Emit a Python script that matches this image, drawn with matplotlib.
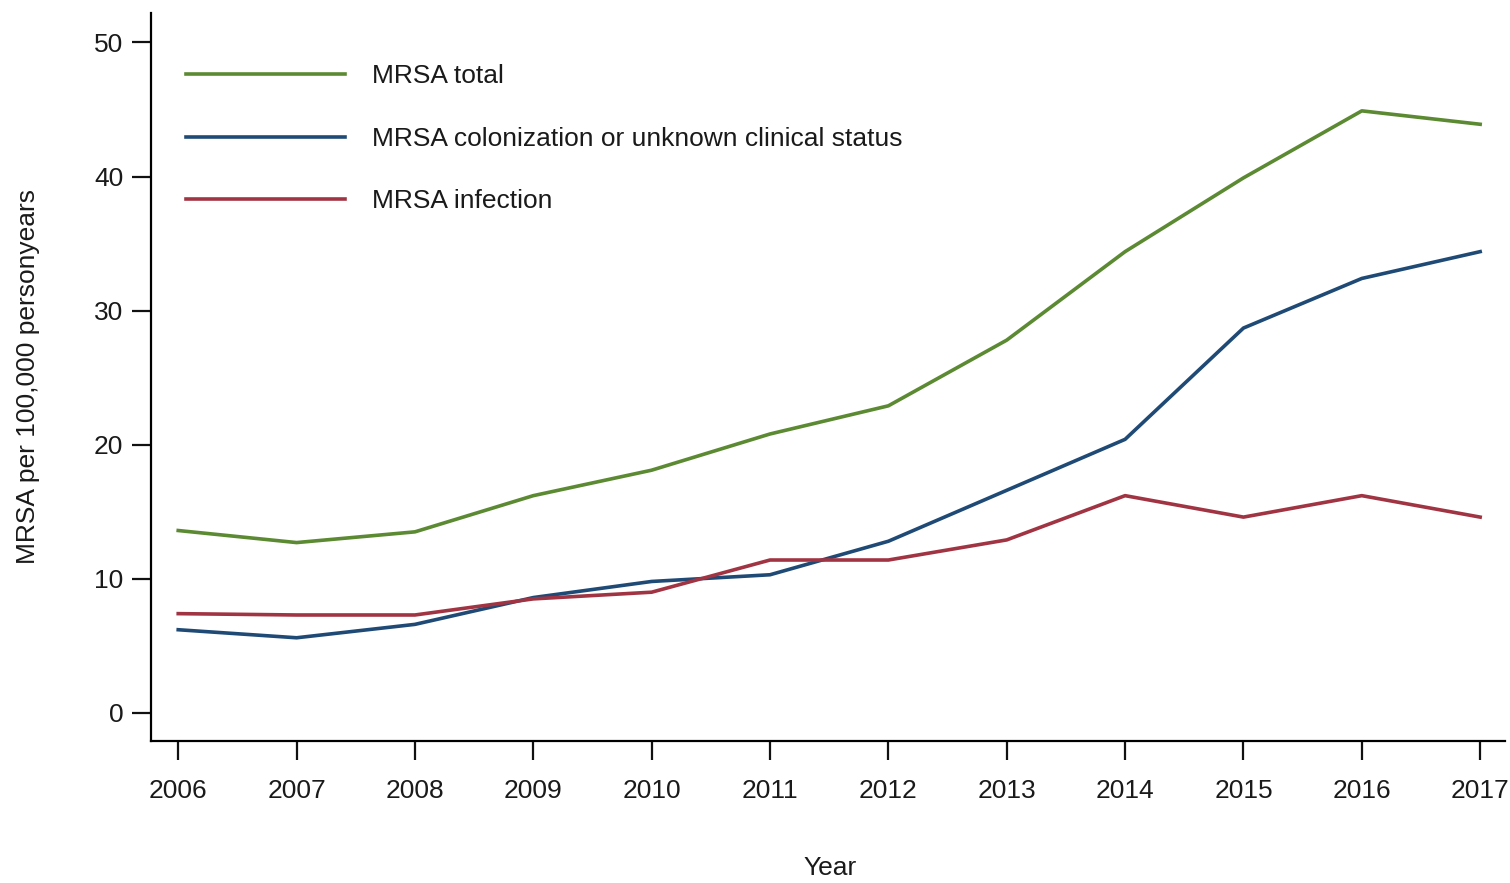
import matplotlib
matplotlib.use("Agg")
import matplotlib.pyplot as plt
from matplotlib import font_manager

years = [2006, 2007, 2008, 2009, 2010, 2011, 2012, 2013, 2014, 2015, 2016, 2017]
mrsa_total = [13.6, 12.7, 13.5, 16.2, 18.1, 20.8, 22.9, 27.8, 34.4, 39.9, 44.9, 43.9]
mrsa_colonization = [6.2, 5.6, 6.6, 8.6, 9.8, 10.3, 12.8, 16.6, 20.4, 28.7, 32.4, 34.4]
mrsa_infection = [7.4, 7.3, 7.3, 8.5, 9.0, 11.4, 11.4, 12.9, 16.2, 14.6, 16.2, 14.6]
series_labels = ["MRSA total", "MRSA colonization or unknown clinical status", "MRSA infection"]
y_ticks = [0, 10, 20, 30, 40, 50]

names = {f.name for f in font_manager.fontManager.ttflist}
fam = "Liberation Sans Narrow" if "Liberation Sans Narrow" in names else "Liberation Sans"
plt.rcParams["font.family"] = [fam, "DejaVu Sans"]

fs = 19
fig = plt.figure(figsize=(15.1, 8.83), dpi=100)
ax = fig.add_axes([0.1, 0.1608, 0.8967, 0.8245])

colors = ["#5b8a32", "#1f4a76", "#a13442"]
for vals, lab, c in zip([mrsa_total, mrsa_colonization, mrsa_infection], series_labels, colors):
    ax.plot(years, vals, color=c, lw=2.6, label=lab, solid_joinstyle="round")

ax.set_xlim(2005.77, 2017.21)
ax.set_ylim(-2.1, 52.2)
ax.set_xticks(years)
ax.set_yticks(y_ticks)
for s in ["top", "right"]:
    ax.spines[s].set_visible(False)
for s in ["left", "bottom"]:
    ax.spines[s].set_linewidth(1.6)
ax.tick_params(axis="both", labelsize=fs, width=1.6, length=14, colors="#111111", labelcolor="#1a1a1a")
ax.tick_params(axis="x", pad=13)
ax.tick_params(axis="y", pad=6)

ax.set_ylabel("MRSA per 100,000 personyears", fontsize=fs, color="#1a1a1a")
ax.yaxis.set_label_coords(-0.082, 0.5)
ax.set_xlabel("Year", fontsize=fs, color="#1a1a1a")
ax.xaxis.set_label_coords(0.5015, -0.158)

leg = ax.legend(loc="upper left", bbox_to_anchor=(0.008, 0.962), frameon=False, fontsize=fs,
                handlelength=6.06, handletextpad=1.0, labelspacing=1.46)
for t in leg.get_texts():
    t.set_color("#1a1a1a")

fig.savefig("out.png", dpi=100)
